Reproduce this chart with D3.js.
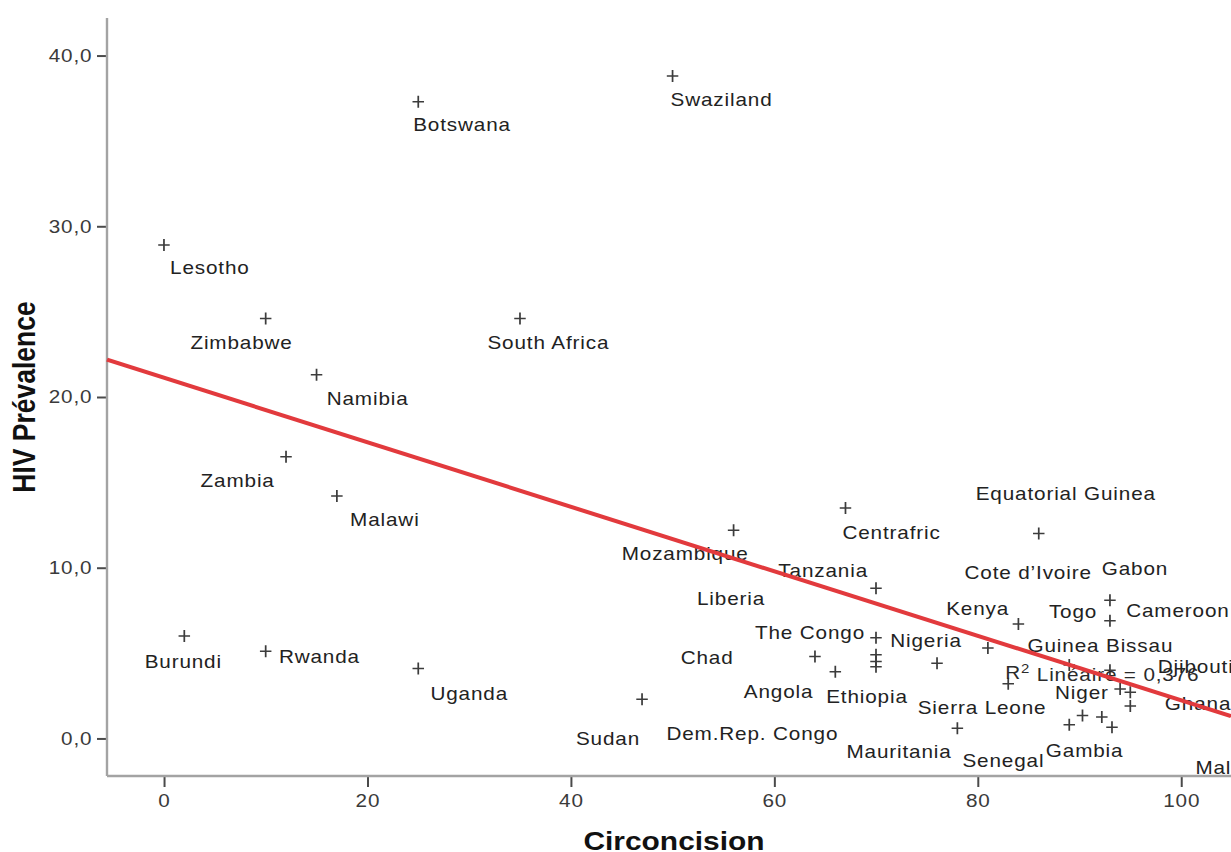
<!DOCTYPE html>
<html>
<head>
<meta charset="utf-8">
<script src="https://cdn.jsdelivr.net/npm/d3@7"></script>
<style>
  html, body { margin: 0; padding: 0; background: #fff; overflow: hidden; }
  text { font-family: "Liberation Sans", Arial, sans-serif; }
</style>
</head>
<body>
<svg id="chart" width="1231" height="852"></svg>
<script>
// Circumcision rate (%) vs HIV prevalence (%) by country
const countries = [
  "Swaziland", "Botswana", "Lesotho", "Zimbabwe", "South Africa", "Namibia",
  "Zambia", "Malawi", "Burundi", "Rwanda", "Uganda", "Sudan", "Mozambique",
  "Centrafric", "Equatorial Guinea", "Tanzania", "Gabon", "Cameroon", "Kenya",
  "The Congo", "Guinea Bissau", "Chad", "Nigeria", "Cote d’Ivoire", "Ethiopia",
  "Angola", "Liberia", "Sierra Leone", "Togo", "Djibouti", "Niger", "Mali",
  "Ghana", "Gambia", "Senegal", "Dem.Rep. Congo", "Mauritania", "Guinea"
];
const circoncision = [
  50, 25, 0, 10, 35, 15,
  12, 17, 2, 10, 25, 47, 56,
  67, 86, 70, 93, 93, 84,
  70, 81, 64, 70, 70, 66,
  70, 76, 83, 89, 93, 94, 95,
  95, 89, 90.3, 92.2, 78, 93.2
];
const prevalence = [
  38.8, 37.3, 28.9, 24.6, 24.6, 21.3,
  16.5, 14.2, 6.0, 5.1, 4.1, 2.3, 12.2,
  13.5, 12.0, 8.8, 8.1, 6.9, 6.7,
  5.9, 5.3, 4.8, 4.9, 4.5, 3.9,
  4.2, 4.4, 3.2, 4.3, 4.0, 2.9, 2.7,
  1.9, 0.8, 1.35, 1.25, 0.6, 0.66
];

// Where each country name sits, in data units: left edge and vertical centre
const labelNames = [
  "Swaziland", "Botswana", "Lesotho", "Zimbabwe", "South Africa", "Namibia",
  "Zambia", "Malawi", "Burundi", "Rwanda", "Uganda", "Sudan", "Dem.Rep. Congo",
  "Mozambique", "Liberia", "Tanzania", "Chad", "The Congo", "Angola", "Ethiopia",
  "Nigeria", "Centrafric", "Equatorial Guinea", "Cote d’Ivoire", "Gabon", "Kenya",
  "Togo", "Cameroon", "Guinea Bissau", "Niger", "Ghana", "Mali",
  "Sierra Leone", "Mauritania", "Senegal", "Gambia", "Djibouti"
];
const labelX = [
  49.8, 24.5, 0.6, 2.6, 31.8, 16.0,
  3.6, 18.3, -1.9, 11.3, 26.2, 40.5, 49.4,
  45.0, 52.4, 60.4, 50.8, 58.1, 57.0, 65.1,
  71.4, 66.7, 79.8, 78.7, 92.2, 76.9,
  87.0, 94.6, 84.9, 87.6, 98.4, 101.4,
  74.1, 67.1, 78.5, 86.7, 97.7
];
const labelY = [
  37.4, 35.95, 27.6, 23.2, 23.2, 19.9,
  15.1, 12.8, 4.5, 4.8, 2.6, 0.0, 0.3,
  10.8, 8.2, 9.85, 4.75, 6.2, 2.75, 2.45,
  5.7, 12.05, 14.35, 9.7, 9.95, 7.6,
  7.45, 7.5, 5.45, 2.65, 2.05, -1.7,
  1.8, -0.8, -1.3, -0.7, 4.2
];

const xTicks = [0, 20, 40, 60, 80, 100];
const yTicks = [0, 10, 20, 30, 40];

// Linear fit of prevalence on circumcision
const fitIntercept = 21.13;
const fitSlope = -0.189;
const r2Value = "0,376";

const W = 1231, H = 852;
const stretch = 1.15;   // horizontal stretch of the whole drawing
const labelFont = "18px";
const labelSpacing = "0.75px";

const svg = d3.select("#chart");
const g = svg.append("g").attr("transform", `scale(${stretch},1)`);

const xDomain = [-5.6, 104.9];
const yDomain = [-2.2, 42.2];
const x = d3.scaleLinear().domain(xDomain).range([107 / stretch, W / stretch]);
const y = d3.scaleLinear().domain(yDomain).range([776, 18]);

const fmtY = d => d3.format(".1f")(d).replace(".", ",");

// Y axis
const yAxis = g.append("g")
  .attr("transform", `translate(${x(xDomain[0])},0)`)
  .call(d3.axisLeft(y).tickValues(yTicks).tickSize(10 / stretch).tickPadding(4).tickFormat(fmtY));
yAxis.select(".domain").remove();
yAxis.selectAll(".tick line").attr("stroke", "#4a4a4a").attr("stroke-width", 2);
yAxis.selectAll(".tick text")
  .attr("fill", "#3a3a3a").style("font-size", "18px")
  .style("letter-spacing", labelSpacing)
  .style("font-family", "'Liberation Sans', Arial, sans-serif");

// X axis
const xAxis = g.append("g")
  .attr("transform", `translate(0,${y(yDomain[0])})`)
  .call(d3.axisBottom(x).tickValues(xTicks).tickSize(11).tickPadding(7).tickFormat(d3.format("d")));
xAxis.select(".domain").remove();
xAxis.selectAll(".tick line").attr("stroke", "#4a4a4a").attr("stroke-width", 2 / stretch);
xAxis.selectAll(".tick text")
  .attr("fill", "#3a3a3a").style("font-size", "18px")
  .style("letter-spacing", labelSpacing)
  .style("font-family", "'Liberation Sans', Arial, sans-serif");

// Axis lines
g.append("line")
  .attr("x1", x(xDomain[0])).attr("x2", x(xDomain[0]))
  .attr("y1", y(yDomain[1])).attr("y2", y(yDomain[0]))
  .attr("stroke", "#a3a3a3").attr("stroke-width", 2.4 / stretch);
g.append("line")
  .attr("x1", x(xDomain[0])).attr("x2", x(xDomain[1]) + 10)
  .attr("y1", y(yDomain[0])).attr("y2", y(yDomain[0]))
  .attr("stroke", "#a3a3a3").attr("stroke-width", 2.4);

// Data points as small crosses
const pts = countries.map((c, i) => ({ name: c, cx: circoncision[i], hiv: prevalence[i] }));
g.append("g").selectAll("path")
  .data(pts)
  .join("path")
  .attr("transform", d => `translate(${x(d.cx)},${y(d.hiv)})`)
  .attr("d", "M-5,0H5M0,-6V6")
  .attr("fill", "none")
  .attr("stroke", "#3c3c3c")
  .attr("stroke-width", 1.5);

// R² annotation
const r2 = g.append("text")
  .attr("x", x(82.7)).attr("y", y(3.85)).attr("dy", "0.35em")
  .attr("fill", "#2a2a2a").style("font-size", labelFont)
  .style("letter-spacing", labelSpacing);
r2.append("tspan").text("R");
r2.append("tspan").attr("dy", "-0.45em").style("font-size", "13px").text("2");
r2.append("tspan").attr("dy", "0.45em").text(" Linéaire = " + r2Value);

// Country names
g.append("g").selectAll("text")
  .data(labelNames.map((n, i) => ({ n, lx: labelX[i], ly: labelY[i] })))
  .join("text")
  .attr("x", d => x(d.lx))
  .attr("y", d => y(d.ly))
  .attr("dy", "0.35em")
  .attr("fill", "#222")
  .style("font-size", labelFont)
  .style("letter-spacing", labelSpacing)
  .text(d => d.n);

// Fit line
g.append("line")
  .attr("x1", x(xDomain[0])).attr("y1", y(fitIntercept + fitSlope * xDomain[0]))
  .attr("x2", x(xDomain[1])).attr("y2", y(fitIntercept + fitSlope * xDomain[1]))
  .attr("stroke", "#e23a3d").attr("stroke-width", 4);

// Axis titles
g.append("text")
  .attr("x", 674 / stretch).attr("y", 850)
  .attr("text-anchor", "middle")
  .attr("fill", "#111")
  .style("font-size", "26px").style("font-weight", "bold")
  .text("Circoncision");

g.append("text")
  .attr("transform", `translate(${35 / stretch},397) rotate(-90)`)
  .attr("text-anchor", "middle")
  .attr("fill", "#111")
  .style("font-size", "26.5px").style("font-weight", "bold")
  .text("HIV Prévalence");
</script>
</body>
</html>
